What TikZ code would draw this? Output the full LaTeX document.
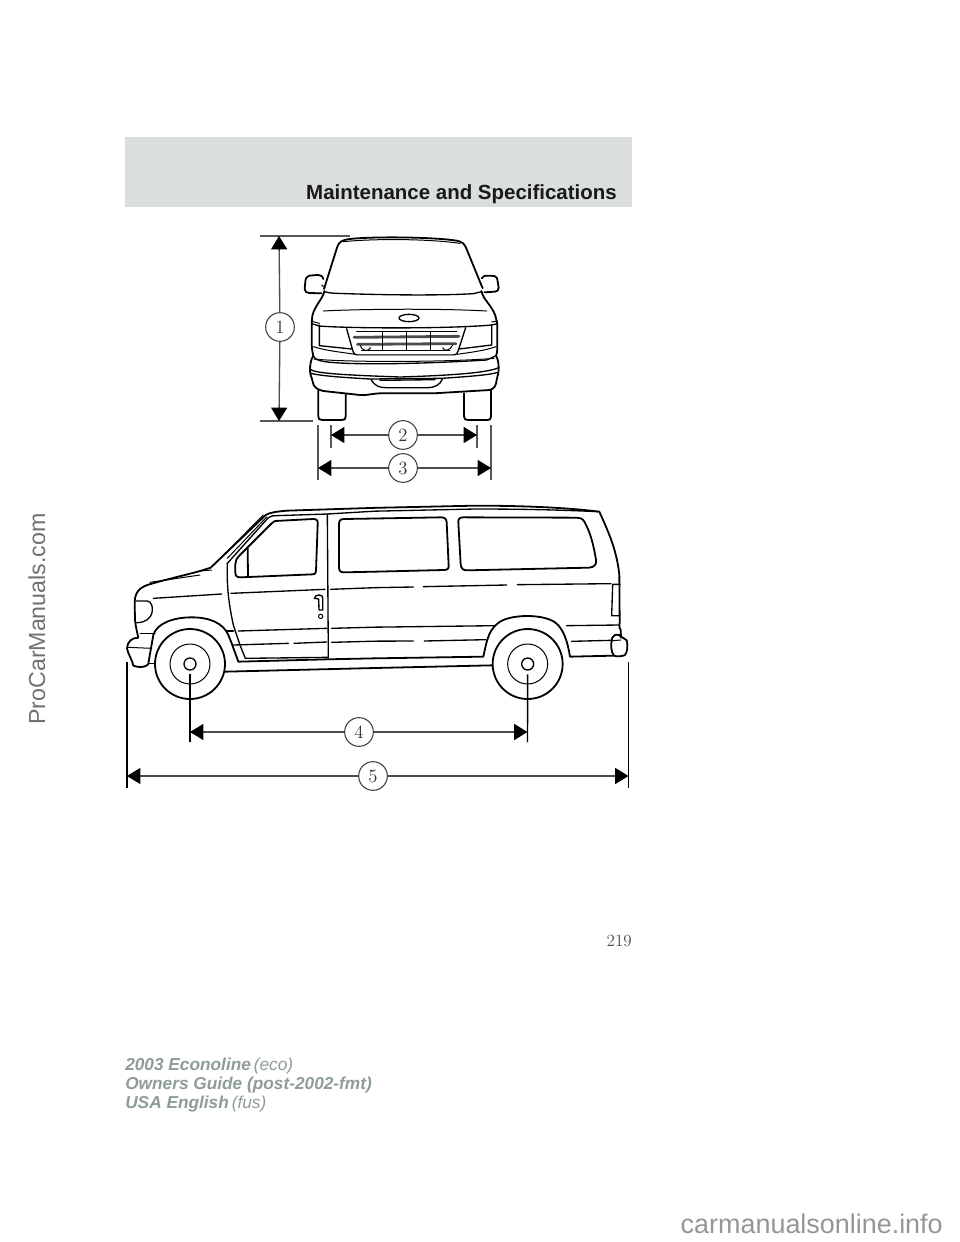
\documentclass[tikz,border=0pt]{standalone}
\usepackage{fontspec}
\newfontfamily\lib{Liberation Sans}
\usetikzlibrary{arrows.meta}
\definecolor{band}{HTML}{DADFDE}
\definecolor{foot}{HTML}{8E9C9A}
\definecolor{wm}{HTML}{6E7270}
\definecolor{wmb}{HTML}{969696}
\definecolor{ext}{HTML}{555555}
\tikzset{
  thick line/.style={line width=1.35pt,line join=round,line cap=round},
  thin line/.style={line width=.75pt,line join=round,line cap=round},
  mid line/.style={line width=1pt,line join=round,line cap=round},
  extline/.style={line width=.9pt,color=ext},
  dimline/.style={line width=1pt,color=black!70,-{Triangle[length=10pt,width=12pt,color=black]}},
  num/.style={circle,draw=black!75,line width=.8pt,fill=white,minimum size=21.5pt,inner sep=0pt,font=\fontsize{14pt}{15pt}\selectfont,text=black!80},
  foottext/.style={anchor=base west,inner sep=0pt,text=foot,font=\lib\fontsize{12.95pt}{14pt}\selectfont},
  front/.style={shift={(260,225)},x=.25pt,y=-.25pt},
  sideL/.style={shift={(120,495)},x=.25pt,y=-.25pt},
  sideR/.style={shift={(375,495)},x=.25pt,y=-.25pt}
}
\begin{document}
\begin{tikzpicture}[x=.75pt,y=-.75pt]
\useasboundingbox[fill=white] (0,0) rectangle (960,1242);
% header band
\fill[band] (125,137) rectangle (632,207);
\node[anchor=base east,inner sep=0pt,font=\lib\bfseries\fontsize{15.35pt}{16pt}\selectfont,text=black!90] (title) at (617,199) {Maintenance and Specifications};

% ---------- front view
\begin{scope}[front]
\draw[thick line,fill=white] (175,497) -- (175,572) .. controls (175,582) and (178,585) .. (186,585) -- (246,585) .. controls (254,585) and (257,582) .. (257,574) -- (257,505);
\draw[thick line,fill=white] (612,505) -- (612,574) .. controls (612,582) and (616,585) .. (624,585) -- (683,585) .. controls (690,585) and (693,582) .. (693,574) -- (693,495);
% mirrors
\draw[thick line] (190,162) .. controls (188,152) and (180,150) .. (170,150) -- (148,152) .. controls (140,153) and (137,160) .. (136,170) -- (134,192) .. controls (134,200) and (140,204) .. (148,204) -- (185,205);
\draw[thick line] (665,160) .. controls (667,153) and (675,152) .. (685,152) -- (703,153) .. controls (710,154) and (712,160) .. (713,170) -- (716,188) .. controls (716,196) and (712,200) .. (704,200) -- (673,202);
% roof + pillars
\draw[thick line] (192,192) -- (232,65) .. controls (238,50) and (245,45) .. (270,42) .. controls (340,34) and (520,36) .. (590,47) .. controls (605,50) and (612,55) .. (618,68) -- (668,190);
\draw[thin line] (250,50) .. controls (350,40) and (510,42) .. (600,55);
\draw[thin line] (185,180) -- (195,188);
% windscreen base
\draw[mid line] (195,200) .. controls (205,205) and (230,205) .. (260,206) .. controls (380,210) and (540,212) .. (640,206) -- (665,200);
% hood sides
\draw[thick line] (193,198) .. controls (190,220) and (165,240) .. (157,272) -- (155,296) -- (155,350) .. controls (155,372) and (158,385) .. (160,392);
\draw[thick line] (664,198) .. controls (670,225) and (695,240) .. (706,272) -- (712,296) -- (712,350) .. controls (712,372) and (712,385) .. (708,392);
\draw[thin line] (190,258) .. controls (300,252) and (540,250) .. (680,258);
\draw[mid line] (447,279) ellipse [x radius=30,y radius=11];
% hood edge
\draw[mid line] (155,296) -- (178,303) .. controls (260,310) and (560,312) .. (695,300) -- (712,296);
\draw[thin line] (155,289) -- (178,295);\draw[thin line] (695,291) -- (712,288);
% headlights
\draw[mid line] (178,300) -- (178,362) -- (275,372);
\draw[mid line] (695,300) -- (695,360) -- (597,372);
\draw[thin line] (160,365) .. controls (200,378) and (250,382) .. (285,388);
\draw[thin line] (708,365) .. controls (670,378) and (630,382) .. (592,388);
% grille
\draw[mid line] (260,311) -- (278,376) .. controls (281,386) and (285,390) .. (295,390) -- (578,390) .. controls (588,390) and (592,386) .. (595,376) -- (617,308);
\draw[thin line] (290,320) -- (590,320);
\draw[thin line] (305,376) -- (570,376);
\draw[line width=2.1pt,line cap=round,color=black!70] (282,337) -- (597,334);
\draw[line width=2.1pt,line cap=round,color=black!70] (292,358) -- (588,356);
\foreach \gx in {367,440,512}{\draw[thin line] (\gx,320) -- (\gx,376);}
\draw[thin line] (300,360) .. controls (305,378) and (325,382) .. (332,368);
\draw[thin line] (548,368) .. controls (552,380) and (570,378) .. (578,360);
% bumper
\draw[thick line,fill=white] (160,392) .. controls (152,405) and (150,420) .. (150,436) .. controls (150,450) and (155,455) .. (158,470) .. controls (160,485) and (170,494) .. (190,498) -- (300,510) .. controls (320,512) and (340,505) .. (360,505) -- (520,505) -- (690,495) .. controls (705,490) and (708,480) .. (710,465) .. controls (713,450) and (716,445) .. (716,430) .. controls (716,415) and (714,402) .. (708,392);
\draw[mid line] (160,392) .. controls (165,410) and (200,412) .. (260,415) .. controls (400,420) and (600,410) .. (680,405) -- (708,392);
\draw[thin line] (162,402) .. controls (250,412) and (560,412) .. (702,400);
\draw[mid line] (150,432) .. controls (160,445) and (250,450) .. (420,456) .. controls (550,452) and (680,445) .. (716,428);
\draw[mid line] (153,445) .. controls (190,455) and (300,460) .. (330,462) -- (545,460) .. controls (620,455) and (690,450) .. (714,442);
\draw[mid line] (333,463) .. controls (345,485) and (360,488) .. (380,488) -- (500,488) .. controls (525,488) and (540,480) .. (548,461);
\draw[mid line] (360,466) -- (525,464);
\end{scope}

% ---------- side view: front half
\begin{scope}[sideL]
% body
\draw[thick line] (765,38.5) -- (500,47) .. controls (470,50) and (450,52) .. (437,60) -- (272,218) -- (240,228) .. controls (190,242) and (130,255) .. (82,270) .. controls (55,280) and (44,295) .. (44,325) -- (45,375) .. controls (47,395) and (52,415) .. (55,428) .. controls (35,428) and (22,440) .. (21,460) .. controls (25,480) and (35,490) .. (40,512) .. controls (55,518) and (75,518) .. (85,508);
\draw[thick line] (85,505) -- (100,420) .. controls (110,385) and (160,367) .. (215,367) .. controls (270,367) and (310,385) .. (325,420) -- (335,445) -- (355,500) -- (620,493) -- (765,490);
\draw[thick line] (315,530) -- (765,519);
\draw[thin line] (85,505) -- (105,505);
\draw[thin line] (24,457) -- (95,460);
\draw[thin line] (60,415) -- (105,415);
\draw[mid line] (47,318) -- (82,318) .. controls (95,320) and (98,335) .. (97,348) .. controls (93,372) and (75,383) .. (50,383);
\draw[thin line] (90,262) -- (240,240);
\draw[thin line] (240,228) -- (275,225);
% A-pillar doubled
\draw[thin line] (430,60) -- (278,213);
\draw[thin line] (440,66) -- (322,190);
% door
\draw[mid line] (322,205) .. controls (320,270) and (325,320) .. (340,390) -- (360,450) -- (376,490) -- (625,487);
\draw[mid line] (622,57) -- (625,487);
\draw[mid line] (322,205) -- (445,68) .. controls (452,62) and (460,62) .. (470,62) -- (622,57) -- (765,48.5);
% door window
\draw[thick line] (465,78) -- (580,72) .. controls (592,72) and (594,78) .. (593,88) -- (588,228) .. controls (588,236) and (584,238) .. (578,238) -- (362,247) .. controls (350,247) and (346,243) .. (346,232) -- (346,208) .. controls (346,198) and (350,190) .. (358,182) -- (455,85) .. controls (458,80) and (460,79) .. (465,78) -- cycle;
\draw[thick line] (383,160) -- (384,245);
% creases
\draw[mid line] (100,310) -- (305,297);
\draw[mid line] (333,295) -- (615,283);
\draw[mid line] (632,283) -- (765,278);
\draw[mid line] (355,408) -- (620,400);
\draw[mid line] (635,400) -- (765,396.5);
\draw[mid line] (320,408) -- (340,408);
\draw[mid line] (340,450) -- (505,445);
\draw[mid line] (522,445) -- (620,441);
\draw[mid line] (635,442) -- (765,438.5);
% handle
\draw[mid line] (583,310) .. controls (585,302) and (590,300) .. (598,300) .. controls (606,300) and (608,304) .. (608,310) -- (608,345) -- (597,345) -- (596,312) -- (583,310);
\draw[thin line] (602,364) circle [radius=6.5];
% second window (left part)
\draw[thick line] (765,70.5) -- (672,72) .. controls (660,72) and (657,78) .. (657,88) -- (657,218) .. controls (657,228) and (662,232) .. (672,232) -- (765,230);
% wheel
\draw[thick line,fill=white] (210,507) circle [radius=105];
\draw[thin line] (210,507) circle [radius=60];
\draw[mid line] (210,507) circle [radius=18];
\coordinate (hubL) at (210,538);
\end{scope}

% ---------- side view: rear half
\begin{scope}[sideR]
\draw[thick line] (0,38.5) -- (300,32) .. controls (420,32) and (560,36) .. (673,50) .. controls (695,100) and (725,160) .. (733,240) -- (734,375) .. controls (735,390) and (730,395) .. (737,405) -- (738,428);
\draw[mid line] (0,48.5) -- (300,42) .. controls (450,42) and (560,45) .. (670,50);
\draw[thick line] (0,490) -- (325,485) .. controls (335,440) and (340,395) .. (385,375) .. controls (425,358) and (505,358) .. (540,382) .. controls (565,400) and (578,440) .. (585,485) -- (715,482);
\draw[thick line] (0,519) -- (352,511);
% rear bumper
\draw[thick line] (712,428) .. controls (715,420) and (722,418) .. (732,420) .. controls (740,428) and (750,430) .. (755,436) .. controls (759,450) and (758,470) .. (750,480) .. controls (740,485) and (725,485) .. (717,482) .. controls (708,470) and (706,450) .. (712,428) -- cycle;
\draw[thin line] (712,437) -- (738,435);
% tail light
\draw[mid line] (735,268) -- (713,268) -- (710,362) -- (733,362);
% windows
\draw[thick line] (0,70.5) -- (198,67) .. controls (210,67) and (214,72) .. (215,82) -- (221,212) .. controls (222,222) and (216,225) .. (206,225) -- (0,230);
\draw[thick line] (265,67) .. controls (254,67) and (249,72) .. (250,82) -- (257,208) .. controls (258,220) and (264,226) .. (276,226) -- (642,218) .. controls (658,217) and (665,208) .. (663,195) .. controls (655,145) and (645,110) .. (628,80) .. controls (622,70) and (615,68) .. (605,68) -- cycle;
% creases
\draw[mid line] (0,278) -- (115,276);
\draw[mid line] (145,275) -- (395,270);
\draw[mid line] (427,269) -- (708,266);
\draw[mid line] (0,396.5) -- (362,392);
\draw[mid line] (575,392) -- (732,390);
\draw[mid line] (0,438.5) -- (115,438);
\draw[mid line] (148,438) -- (333,434);
\draw[mid line] (590,439) -- (708,436);
% wheel
\draw[thick line,fill=white] (458,507) circle [radius=105];
\draw[thin line] (458,507) circle [radius=60];
\draw[mid line] (458,507) circle [radius=18];
\coordinate (hubR) at (458,538);
\end{scope}

% ---------- dimension nodes
\node[num] (n1) at (280,327) {1};
\node[num] (n2) at (403,435) {2};
\node[num] (n3) at (403,468) {3};
\node[num] (n4) at (359,732) {4};
\node[num] (n5) at (373,776) {5};

% ---------- extension-line end points
\coordinate (e1a) at (260,236); \coordinate (e1b) at (350,236);
\coordinate (e1c) at (260,421); \coordinate (e1d) at (313,421);
\coordinate (t1) at (279,236); \coordinate (b1) at (279,421);
\coordinate (e2a) at (331,425); \coordinate (e2b) at (331,448);
\coordinate (e2c) at (477,425); \coordinate (e2d) at (477,448);
\coordinate (e3a) at (318,425); \coordinate (e3b) at (318,480);
\coordinate (e3c) at (491,425); \coordinate (e3d) at (491,480);
\coordinate (e4a) at (190,742); \coordinate (e4b) at (527.5,742);
\coordinate (e5a) at (127,662); \coordinate (e5b) at (127,788);
\coordinate (e5c) at (628.5,662); \coordinate (e5d) at (628.5,788);
\coordinate (l2) at (331,435); \coordinate (r2) at (477,435);
\coordinate (l3) at (318,468); \coordinate (r3) at (491,468);
\coordinate (l4) at (190,732); \coordinate (r4) at (527.5,732);
\coordinate (l5) at (127,776); \coordinate (r5) at (628.5,776);

\draw[extline] (e1a) -- (e1b);
\draw[extline] (e1c) -- (e1d);
\draw[extline] (e2a) -- (e2b);
\draw[extline] (e2c) -- (e2d);
\draw[extline] (e3a) -- (e3b);
\draw[extline] (e3c) -- (e3d);
\draw[line width=1.05pt] (hubL) -- (e4a);
\draw[line width=1.05pt] (hubR) -- (e4b);
\draw[line width=1.05pt] (e5a) -- (e5b);
\draw[line width=1.05pt] (e5c) -- (e5d);

\draw[dimline] (n1) -- (t1);
\draw[dimline] (n1) -- (b1);
\draw[dimline] (n2) -- (l2);
\draw[dimline] (n2) -- (r2);
\draw[dimline] (n3) -- (l3);
\draw[dimline] (n3) -- (r3);
\draw[dimline] (n4) -- (l4);
\draw[dimline] (n4) -- (r4);
\draw[dimline] (n5) -- (l5);
\draw[dimline] (n5) -- (r5);

% ---------- page furniture
\node[anchor=base east,inner sep=0pt,font=\fontsize{12.8pt}{13pt}\selectfont,text=black!70] (page) at (632,946) {219};
\node[foottext] (f1) at (125,1070) {\bfseries\itshape 2003 Econoline\mdseries\itshape\,(eco)};
\node[foottext] (f2) at (125,1089) {\bfseries\itshape Owners Guide (post-2002-fmt)};
\node[foottext] (f3) at (125,1108) {\bfseries\itshape USA English\mdseries\itshape\,(fus)};
\node[rotate=90,anchor=base west,inner sep=0pt,text=wm,font=\lib\fontsize{17.4pt}{18pt}\selectfont] (wmark) at (45,725) {ProCarManuals.com};
\node[anchor=base east,inner sep=0pt,text=wmb,font=\lib\fontsize{20.2pt}{21pt}\selectfont] (site) at (943,1233) {carmanualsonline.info};
\end{tikzpicture}
\end{document}
